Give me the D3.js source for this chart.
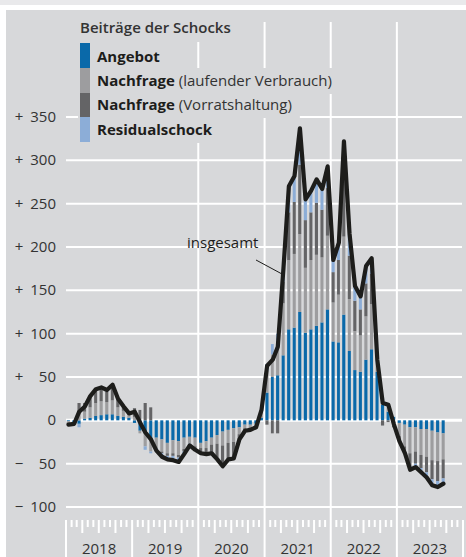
<!DOCTYPE html>
<html><head><meta charset="utf-8">
<script src="https://cdn.jsdelivr.net/npm/d3@7"></script>
<style>
body{margin:0;background:#fff;}
svg{display:block;font-family:"Open Sans","Noto Sans",sans-serif;}
</style>
</head><body>
<svg id="chart" width="466" height="557"></svg>
<script>
// ---- data (monthly, Jan 2018 .. Sep 2023) ----
const firstYear = 2018;
const yearLabels = ["2018","2019","2020","2021","2022","2023"];
const yTicks = [-100,-50,0,50,100,150,200,250,300,350];
const seriesNames = ["Angebot","Nachfrage (laufender Verbrauch)","Nachfrage (Vorratshaltung)","Residualschock"];
const seriesColors = ["#0a69a9","#9d9d9f","#646466","#8cadd7"];

const supply = [
  -1,-2,-4,2,3,5,6,7,7,5,4,3,
  -3,-12,-14,-22,-20,-22,-26,-23,-24,-20,-19,-20,
  -26,-24,-20,-17,-13,-11,-9,-8,-5,-5,-4,3,
  32,50,52,75,105,107,125,101,105,109,113,128,
  91,90,122,80,58,56,70,82,56,18,10,4,
  -3,-5,-8,-8,-10,-10,-12,-14,-15
];
const demandCurrent = [
  -2,0,8,8,12,15,16,14,16,10,7,4,
  4,-3,-16,-14,-12,-14,-12,-15,-16,-13,-8,-10,
  -6,-8,-8,-10,-16,-15,-16,-8,-4,-3,-2,5,
  25,26,40,60,80,85,90,75,80,82,75,85,
  45,55,90,60,45,42,50,52,10,2,5,-6,
  -15,-25,-30,-28,-30,-32,-34,-33,-30
];
const demandInventory = [
  -3,-4,12,10,12,14,14,12,16,9,4,1,
  10,12,20,15,0,-2,-3,-3,-3,-3,0,-2,
  -6,-7,-10,-17,-22,-18,-18,-6,-3,-3,-2,3,
  -5,-15,-15,25,55,60,80,55,55,60,55,55,
  35,40,70,50,35,30,38,35,0,-6,-2,-2,
  -4,-6,-15,-14,-15,-18,-22,-23,-22
];
const residual = [
  0,0,-4,0,1,2,2,2,2,1,1,0,
  0,0,-4,-2,-4,-4,-4,-5,-5,-3,-2,-2,
  0,0,0,-1,-2,-1,-1,0,0,0,0,1,
  8,12,8,15,30,30,42,24,25,27,24,25,
  14,20,40,25,17,15,20,18,4,6,5,0,
  -2,-2,-4,-4,-5,-6,-7,-7,-6
];
const total = [
  -5,-4,10,16,28,36,38,35,41,25,16,8,
  10,-3,-14,-22,-35,-42,-45,-46,-48,-39,-29,-34,
  -38,-39,-38,-45,-53,-45,-44,-22,-12,-11,-8,12,
  63,70,85,175,270,282,337,255,265,278,267,293,
  185,205,322,215,155,143,178,187,70,20,18,-4,
  -24,-38,-57,-54,-60,-66,-75,-77,-73
];

// ---- build table ----
const months = supply.map((_, i) => new Date(firstYear, i, 1));
const table = months.map((d, i) => ({
  date: d,
  s0: supply[i], s1: demandCurrent[i], s2: demandInventory[i], s3: residual[i],
  total: total[i]
}));
const keys = ["s0","s1","s2","s3"];

const svg = d3.select("#chart");
const W = 466, H = 557;
const bg = "#d7d8da";

// frame
svg.append("rect").attr("x",0).attr("y",0).attr("width",W).attr("height",5).attr("fill","#e9e9eb");
svg.append("rect").attr("x",6).attr("y",10).attr("width",W-6).attr("height",H-10).attr("fill",bg);

const x = d3.scaleTime()
  .domain([new Date(firstYear,0,1), new Date(firstYear+6,0,1)])
  .range([66, 463]);
const y = d3.scaleLinear().domain([-100, 350]).range([507, 117]);
const plotTop = 22, axisY = 520;

// vertical year gridlines (2020 .. 2023)
const yearStarts = d3.range(2,6).map(k => new Date(firstYear+k,0,1));
svg.append("g").selectAll("line").data(yearStarts).join("line")
  .attr("x1", d => x(d)).attr("x2", d => x(d))
  .attr("y1", plotTop).attr("y2", axisY)
  .attr("stroke","#fff").attr("stroke-width",2);

// horizontal gridlines
svg.append("g").selectAll("line").data(yTicks).join("line")
  .attr("x1", 66).attr("x2", 462)
  .attr("y1", d => y(d)).attr("y2", d => y(d))
  .attr("stroke","#fff").attr("stroke-width", d => d === 0 ? 3 : 2);

// y labels
const yl = svg.append("g").attr("fill","#333").attr("font-size",15);
yTicks.forEach(v => {
  const a = Math.abs(v);
  yl.append("text").attr("x",56).attr("y",y(v)+5).attr("text-anchor","end").text(String(a));
  if (v !== 0) yl.append("text").attr("x",19).attr("y",y(v)+5).attr("text-anchor","middle")
    .text(v > 0 ? "+" : "\u2212");
});

// bars
const stack = d3.stack().keys(keys).offset(d3.stackOffsetDiverging);
const layers = stack(table);
const gBars = svg.append("g");
layers.forEach((layer, k) => {
  gBars.append("g").attr("fill", seriesColors[k]).selectAll("rect").data(layer).join("rect")
    .attr("x", d => { const a = x(d.data.date), b = x(d3.timeMonth.offset(d.data.date,1)); return a + (b-a)*0.14; })
    .attr("width", d => { const a = x(d.data.date), b = x(d3.timeMonth.offset(d.data.date,1)); return (b-a)*0.56; })
    .attr("y", d => y(Math.max(d[0], d[1])))
    .attr("height", d => Math.abs(y(d[0]) - y(d[1])));
});

// total line
const mid = d => new Date(d.date.getFullYear(), d.date.getMonth(), 15);
svg.append("path").datum(table)
  .attr("fill","none").attr("stroke","#1d1d1b").attr("stroke-width",4.2)
  .attr("stroke-linejoin","round").attr("stroke-linecap","round")
  .attr("d", d3.line().x(d => x(mid(d))).y(d => y(d.total)));

// annotation
svg.append("line").attr("x1",256).attr("y1",260).attr("x2",282).attr("y2",274)
  .attr("stroke","#1d1d1b").attr("stroke-width",1);
svg.append("text").attr("x",187).attr("y",248).attr("font-size",15).attr("fill","#1d1d1b").text("insgesamt");

// x axis ticks
const allMonths = d3.timeMonth.range(new Date(firstYear,0,1), new Date(firstYear+6,0,2));
const gx = svg.append("g").attr("stroke","#fff").attr("stroke-width",2);
allMonths.forEach(d => {
  const m = d.getMonth();
  const len = m === 0 ? 37 : (m % 3 === 0 ? 13 : 7);
  gx.append("line").attr("x1",x(d)).attr("x2",x(d)).attr("y1",axisY).attr("y2",axisY+len);
});
svg.append("g").selectAll("text").data(yearLabels).join("text")
  .attr("x", (d,i) => (x(new Date(firstYear+i,0,1)) + x(new Date(firstYear+i+1,0,1)))/2)
  .attr("y", 554).attr("text-anchor","middle").attr("font-size",15).attr("fill","#333")
  .text(d => d);

// legend
const lg = svg.append("g");
lg.append("rect").attr("x",76).attr("y",14).attr("width",170).attr("height",28).attr("fill",bg);
lg.append("text").attr("x",80).attr("y",33).attr("font-size",15).attr("font-weight",600)
  .attr("fill","#333").text("Beiträge der Schocks");
const rowTop = [43, 68, 93, 117], rowH = [25, 25, 24, 25];
const rowBase = [62, 86, 110, 135];
seriesNames.forEach((name, k) => {
  const g = lg.append("g");
  const bgRect = g.append("rect").attr("fill", bg);
  g.append("rect").attr("x",80).attr("y",rowTop[k]).attr("width",10).attr("height",rowH[k]).attr("fill",seriesColors[k]);
  const t = g.append("text").attr("x",97).attr("y",rowBase[k]).attr("font-size",15).attr("fill","#1d1d1b");
  const m = name.match(/^(\S+)(\s\(.*\))?$/);
  t.append("tspan").attr("font-weight",700).text(m[1]);
  if (m[2]) t.append("tspan").attr("font-weight",400).attr("fill","#333").text(m[2]);
  const len = t.node().getComputedTextLength();
  bgRect.attr("x",78).attr("y",rowTop[k]).attr("width", 97 + len + 8 - 78).attr("height", rowH[k] + 1);
});
</script>
</body></html>
